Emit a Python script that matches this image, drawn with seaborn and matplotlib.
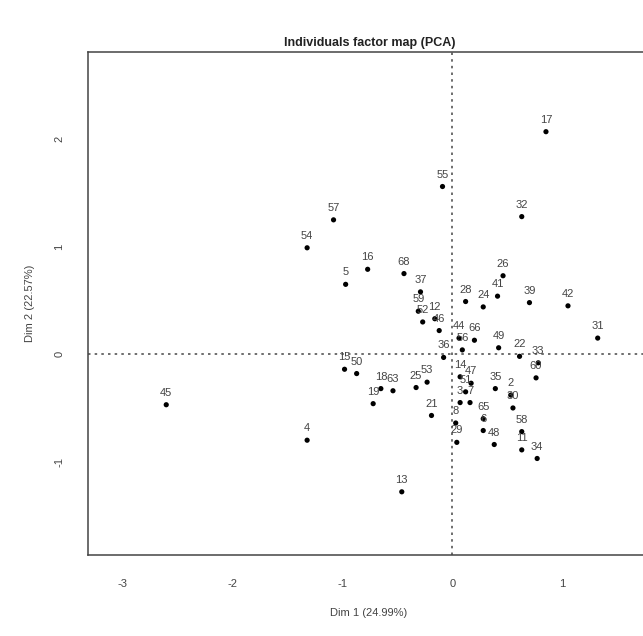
import pandas as pd
import matplotlib
matplotlib.use("Agg")
import matplotlib.pyplot as plt
import seaborn as sns

# individuals, coordinates on the first two dimensions
labels = ["17", "55", "32", "57", "54", "16", "5", "68", "37", "59",
          "52", "12", "46", "26", "41", "24", "28", "39", "42", "31",
          "44", "66", "36", "56", "49", "22", "33", "60", "15",
          "50", "19", "18", "63", "25", "53", "14", "47", "35", "2",
          "21", "51", "3", "7", "8", "29", "65", "6", "48", "30",
          "58", "11", "34", "13", "4", "45"]
dim1 = [0.85, -0.09, 0.63, -1.08, -1.32, -0.77, -0.97, -0.44, -0.29, -0.31,
        -0.27, -0.16, -0.12, 0.46, 0.41, 0.28, 0.12, 0.70, 1.05, 1.32,
        0.06, 0.20, -0.08, 0.09, 0.42, 0.61, 0.78, 0.76, -0.98,
        -0.87, -0.72, -0.65, -0.54, -0.33, -0.23, 0.07, 0.17, 0.39, 0.53,
        -0.19, 0.12, 0.07, 0.16, 0.03, 0.04, 0.28, 0.28, 0.38, 0.55,
        0.63, 0.63, 0.77, -0.46, -1.32, -2.60]
dim2 = [2.07, 1.56, 1.28, 1.25, 0.99, 0.79, 0.65, 0.75, 0.58, 0.40,
        0.30, 0.33, 0.22, 0.73, 0.54, 0.44, 0.49, 0.48, 0.45, 0.15,
        0.15, 0.13, -0.03, 0.04, 0.06, -0.02, -0.08, -0.22, -0.14,
        -0.18, -0.46, -0.32, -0.34, -0.31, -0.26, -0.21, -0.27, -0.32, -0.38,
        -0.57, -0.35, -0.45, -0.45, -0.64, -0.82, -0.60, -0.71, -0.84, -0.50,
        -0.72, -0.89, -0.97, -1.28, -0.80, -0.47]

title = "Individuals factor map (PCA)"
xlab = "Dim 1 (24.99%)"
ylab = "Dim 2 (22.57%)"
xticks = [-3, -2, -1, 0, 1]
yticks = [-1, 0, 1, 2]

df = pd.DataFrame({"ind": labels, "Dim1": dim1, "Dim2": dim2})

sns.set_style("white")
plt.rcParams["font.family"] = ["Liberation Sans", "DejaVu Sans"]
plt.rcParams["axes.unicode_minus"] = False

fig = plt.figure(figsize=(6.43, 6.36), dpi=100)
ax = fig.add_axes([0.137, 0.127, 0.873, 0.791])

# dotted reference lines through the origin
ax.axhline(0, color="#555555", lw=1.2, ls=(0, (1.5, 2.5)), zorder=1)
ax.axvline(0, color="#555555", lw=1.2, ls=(0, (1.5, 2.5)), zorder=1)

sns.scatterplot(data=df, x="Dim1", y="Dim2", ax=ax, color="black",
                s=14, edgecolor="none", zorder=3, legend=False)

for _, r in df.iterrows():
    ax.annotate(r["ind"], (r["Dim1"], r["Dim2"]), xytext=(0, 5),
                textcoords="offset points", ha="center", va="bottom",
                fontsize=8, color="#444444")

ax.set_xlim(-3.31, 1.79)
ax.set_ylim(-1.87, 2.81)
ax.set_xticks(xticks)
ax.set_yticks(yticks)
ax.set_yticklabels([str(t) for t in yticks], rotation=90, va="center")
ax.tick_params(direction="out", length=5, width=0.9, color="#444444",
               labelsize=8, labelcolor="#444444", pad=12)
for sp in ax.spines.values():
    sp.set_color("#444444")
    sp.set_linewidth(1.1)

ax.set_xlabel(xlab, fontsize=8, color="#444444", labelpad=14)
ax.set_ylabel(ylab, fontsize=8, color="#444444", labelpad=14)
fig.text(0.575, 0.932, title, ha="center", va="center",
         fontsize=9, fontweight="bold", color="#222222")

fig.savefig("out.png", dpi=100)
